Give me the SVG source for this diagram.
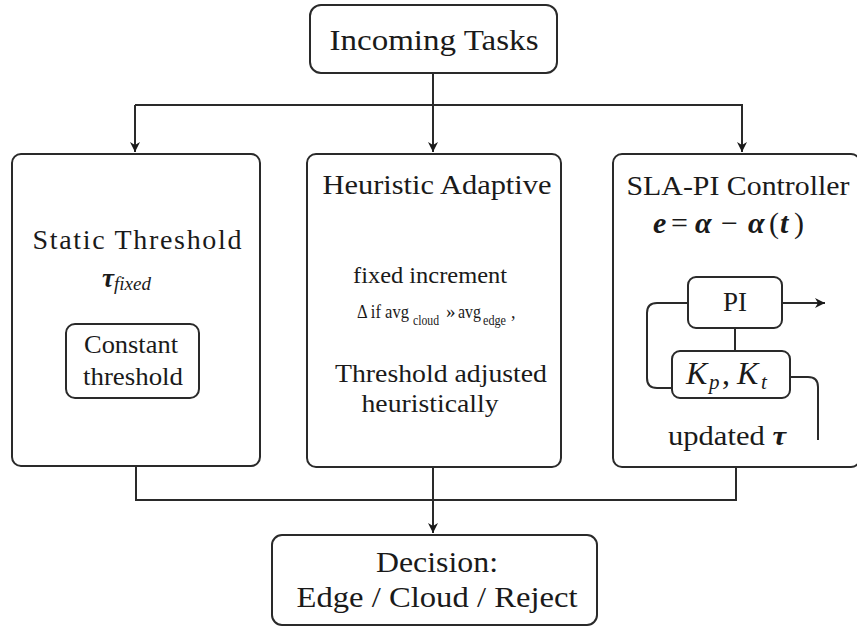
<svg xmlns="http://www.w3.org/2000/svg" width="857" height="628" viewBox="0 0 857 628">
<style>
.box{fill:#fff;stroke:#2a2a2a;stroke-width:2}
.ln{fill:none;stroke:#2a2a2a;stroke-width:2}
.t{font-family:"Liberation Serif","Times New Roman",serif;fill:#1a1a1a;text-anchor:middle}
.s{font-family:"Liberation Serif","Times New Roman",serif;fill:#1a1a1a}
.m{font-family:"Liberation Serif","Times New Roman",serif;font-style:italic;fill:#1a1a1a}
.n{font-style:normal;font-weight:normal}
</style>
<defs>
<marker id="ah" markerWidth="12" markerHeight="12" refX="10" refY="6" orient="auto" markerUnits="userSpaceOnUse">
<path d="M0,1 L10,6 L0,11 L3,6 Z" fill="#1a1a1a"/>
</marker>
</defs>
<rect width="857" height="628" fill="#fff"/>
<g id="connectors">
<path class="ln" d="M433,73 V152" marker-end="url(#ah)"/>
<path class="ln" d="M135,105 H743"/>
<path class="ln" d="M135,105 V152" marker-end="url(#ah)"/>
<path class="ln" d="M742,105 V152" marker-end="url(#ah)"/>
<path class="ln" d="M136,466 V500 H736 V467"/>
<path class="ln" d="M433,467 V533" marker-end="url(#ah)"/>
</g>
<g id="incoming">
<rect class="box" x="310" y="5" width="247" height="68" rx="11"/>
<text class="t" x="434" y="50" font-size="30" textLength="209" lengthAdjust="spacingAndGlyphs">Incoming Tasks</text>
</g>
<g id="static">
<rect class="box" x="12" y="154" width="248" height="312" rx="9"/>
<text class="t" x="137" y="249" font-size="28" textLength="209" lengthAdjust="spacing">Static Threshold</text>
<text class="m" x="102" y="287" font-size="27" font-weight="bold">τ<tspan font-size="19" font-weight="normal" dy="3">fixed</tspan></text>
<g id="constant">
<rect class="box" x="66" y="324" width="133" height="74" rx="9"/>
<text class="t" x="131" y="353" font-size="25" textLength="94" lengthAdjust="spacingAndGlyphs">Constant</text>
<text class="t" x="133" y="385" font-size="25" textLength="100" lengthAdjust="spacingAndGlyphs">threshold</text>
</g>
</g>
<g id="heuristic">
<rect class="box" x="307" y="154" width="254" height="313" rx="9"/>
<text class="t" x="437" y="194" font-size="27" textLength="229" lengthAdjust="spacingAndGlyphs">Heuristic Adaptive</text>
<text class="t" x="430" y="283" font-size="23" textLength="154" lengthAdjust="spacingAndGlyphs">fixed increment</text>
<text class="s" x="357" y="318" font-size="19" textLength="52" lengthAdjust="spacingAndGlyphs">Δ if avg</text>
<text class="s" x="413" y="325" font-size="15" textLength="26" lengthAdjust="spacingAndGlyphs">cloud</text>
<text class="s" x="446" y="318" font-size="19">»</text>
<text class="s" x="458" y="318" font-size="19" textLength="23" lengthAdjust="spacingAndGlyphs">avg</text>
<text class="s" x="483" y="325" font-size="15" textLength="23" lengthAdjust="spacingAndGlyphs">edge</text>
<text class="s" x="511" y="318" font-size="18">,</text>
<text class="t" x="441" y="382" font-size="26" textLength="212" lengthAdjust="spacingAndGlyphs">Threshold adjusted</text>
<text class="t" x="430" y="412" font-size="26" textLength="137" lengthAdjust="spacingAndGlyphs">heuristically</text>
</g>
<g id="slapi">
<rect class="box" x="613" y="154" width="247" height="313" rx="9"/>
<text class="t" x="738" y="195" font-size="27" textLength="223" lengthAdjust="spacingAndGlyphs">SLA-PI Controller</text>
<text class="m" y="233" font-size="30" font-weight="bold"><tspan x="653">e</tspan><tspan class="n" x="671">=</tspan><tspan x="695">α</tspan><tspan class="n" x="721">−</tspan><tspan x="748">α</tspan><tspan class="n" x="769">(</tspan><tspan x="780">t</tspan><tspan class="n" x="794">)</tspan></text>
<g id="pi">
<rect class="box" x="688" y="277" width="94" height="51" rx="8"/>
<text class="t" x="735" y="311" font-size="27">PI</text>
</g>
<g id="gains">
<rect class="box" x="672" y="351" width="118" height="47" rx="8"/>
<text class="m" y="384" font-size="32"><tspan x="686">K</tspan><tspan x="709" dy="5" font-size="21">p</tspan><tspan class="n" x="722" dy="-5">,</tspan><tspan x="737">K</tspan><tspan x="761" dy="5" font-size="21">t</tspan></text>
</g>
<g id="inner-connectors">
<path class="ln" d="M782,303 H825" marker-end="url(#ah)"/>
<path class="ln" d="M735,328 V351"/>
<path class="ln" d="M688,303 H657 Q647,303 647,313 V378 Q647,388 657,388 H672"/>
<path class="ln" d="M790,377 H808 Q818,377 818,387 V440"/>
</g>
<text class="s" x="668" y="445" font-size="27" textLength="118" lengthAdjust="spacingAndGlyphs">updated <tspan font-style="italic" font-weight="bold">τ</tspan></text>
</g>
<g id="decision">
<rect class="box" x="272" y="535" width="325" height="90" rx="10"/>
<text class="t" x="437" y="572" font-size="29" textLength="122" lengthAdjust="spacingAndGlyphs">Decision:</text>
<text class="t" x="437" y="607" font-size="30" textLength="281" lengthAdjust="spacingAndGlyphs">Edge / Cloud / Reject</text>
</g>
</svg>
